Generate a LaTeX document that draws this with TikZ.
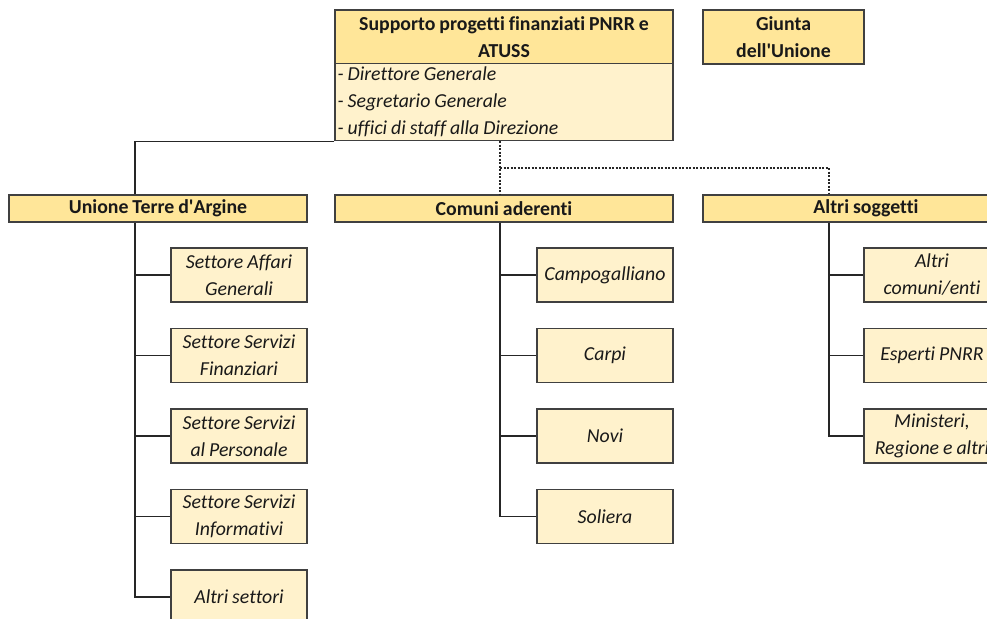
\documentclass[tikz,border=0pt]{standalone}
\usepackage{fontspec}
\setmainfont{Carlito}[Ligatures={NoCommon}]
\newcommand{\orgfont}{\fontsize{19.8}{27}\selectfont\spaceskip=0.2em\relax}
\begin{document}
\begin{tikzpicture}[x=1pt,y=-1pt,
  every node/.style={font=\orgfont},
  base/.style={draw=black!75, line width=1.1pt, rectangle, inner sep=0pt, align=center, text=black!90},
  hdrbox/.style={base, fill=hdrcol, font=\bfseries\orgfont},
  childbox/.style={base, fill=lightcol, minimum width=136pt, minimum height=54pt, font=\itshape\orgfont},
  conn/.style={draw=black!85, line width=1.1pt},
  dotconn/.style={draw=black!85, line width=1.1pt, dash pattern=on 2pt off 1.5pt}
]
\definecolor{hdrcol}{HTML}{FFE699}
\definecolor{lightcol}{HTML}{FFF2CC}
\useasboundingbox (0,0) rectangle (987,618);
\clip (0,0) rectangle (987,618);

% top block
\node[hdrbox, minimum width=338pt, minimum height=54pt] (hdr) at (504,37) {Supporto progetti finanziati PNRR e\\ATUSS};
\node[base, fill=lightcol, minimum width=338pt, minimum height=77pt] (staff) at (504,102) {};
\node[anchor=west, align=left, inner sep=0pt, text=black!90, font=\itshape\orgfont] (stafftext) at ([xshift=3pt]staff.west) {- Direttore Generale\\- Segretario Generale\\- uffici di staff alla Direzione};
\node[hdrbox, minimum width=161pt, minimum height=54pt] (giunta) at (783.5,37) {Giunta\\dell\textquotesingle Unione};

% second row
\node[hdrbox, minimum width=298pt, minimum height=27pt] (unione) at (158,208.5) {Unione Terre d\textquotesingle Argine};
\node[hdrbox, minimum width=338pt, minimum height=27pt] (comuni) at (504,208.5) {Comuni aderenti};
\node[hdrbox, minimum width=326pt, minimum height=27pt] (altri) at (866,208.5) {Altri soggetti};

\coordinate (ux) at (135,0);
\coordinate (cx) at (500,0);
\coordinate (ax) at (829,0);
\coordinate (dj) at (500,168);

% Unione children
\node[childbox] (u1) at (239,275) {Settore Affari\\Generali};
\node[childbox] (u2) at (239,355.5) {Settore Servizi\\Finanziari};
\node[childbox] (u3) at (239,436) {Settore Servizi\\al Personale};
\node[childbox] (u4) at (239,516.5) {Settore Servizi\\Informativi};
\node[childbox] (u5) at (239,597) {Altri settori};

% Comuni children
\node[childbox] (c1) at (605,275) {Campogalliano};
\node[childbox] (c2) at (605,355.5) {Carpi};
\node[childbox] (c3) at (605,436) {Novi};
\node[childbox] (c4) at (605,516.5) {Soliera};

% Altri children
\node[childbox] (a1) at (932,275) {Altri\\comuni/enti};
\node[childbox] (a2) at (932,355.5) {Esperti PNRR};
\node[childbox] (a3) at (932,436) {Ministeri,\\Regione e altri};

% connectors
\draw[conn] (staff.south west) -| (ux |- unione.north);
\draw[dotconn] (cx |- staff.south) -- (cx |- comuni.north);
\draw[dotconn] (dj) -| (ax |- altri.north);

\draw[conn] (ux |- unione.south) |- (u5.west);
\foreach \n in {u1,u2,u3,u4} \draw[conn] (ux |- \n.west) -- (\n.west);
\draw[conn] (cx |- comuni.south) |- (c4.west);
\foreach \n in {c1,c2,c3} \draw[conn] (cx |- \n.west) -- (\n.west);
\draw[conn] (ax |- altri.south) |- (a3.west);
\foreach \n in {a1,a2} \draw[conn] (ax |- \n.west) -- (\n.west);
\end{tikzpicture}
\end{document}
